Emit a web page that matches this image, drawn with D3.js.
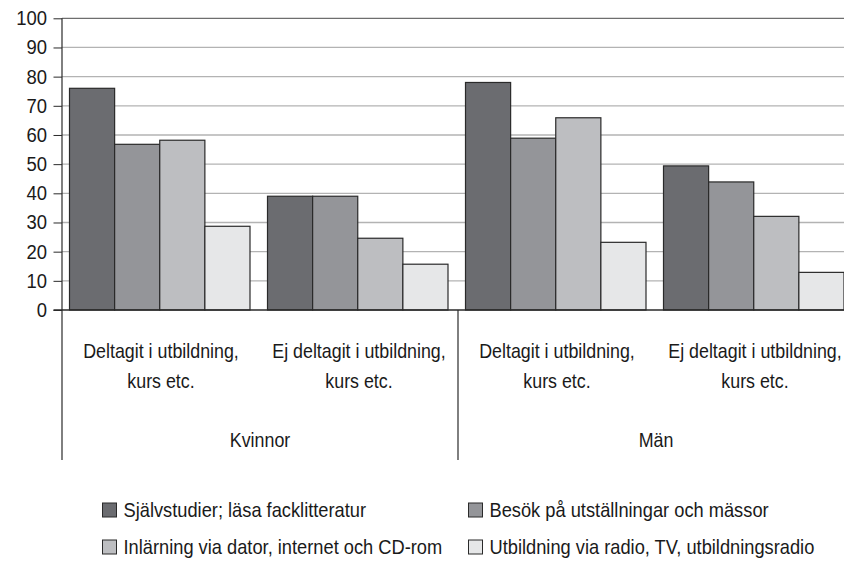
<!DOCTYPE html>
<html>
<head>
<meta charset="utf-8">
<script src="https://cdn.jsdelivr.net/npm/d3@7/dist/d3.min.js"></script>
<style>
  html, body { margin: 0; padding: 0; background: #ffffff; }
  svg { display: block; }
  text { font-family: "Liberation Sans", Arial, sans-serif; fill: #1a1a1a; }
</style>
</head>
<body>
<svg id="chart" width="844" height="562"></svg>
<script>
// ---- data ----
const groups = ["Kvinnor", "Män"];
const subgroups = ["Deltagit i utbildning,|kurs etc.", "Ej deltagit i utbildning,|kurs etc."];
const series = [
  "Självstudier; läsa facklitteratur",
  "Besök på utställningar och mässor",
  "Inlärning via dator, internet och CD-rom",
  "Utbildning via radio, TV, utbildningsradio"
];
// values per series, order: Kvinnor-Deltagit, Kvinnor-Ej, Män-Deltagit, Män-Ej
const selfStudy   = [76, 39, 78, 49.4];
const exhibitions = [56.8, 39, 58.9, 43.9];
const computer    = [58.2, 24.6, 65.9, 32.1];
const radioTv     = [28.7, 15.7, 23.2, 12.9];
const yTicks = [0, 10, 20, 30, 40, 50, 60, 70, 80, 90, 100];

const seriesValues = [selfStudy, exhibitions, computer, radioTv];
const colors = ["#6b6c70", "#949599", "#bdbec1", "#e6e7e8"];

// ---- layout ----
const svg = d3.select("#chart");
const plotLeft = 62, plotRight = 854, plotTop = 18.3, plotBottom = 310;
const cells = [];
groups.forEach((g, gi) => subgroups.forEach((s, si) => cells.push({ g, s, key: g + "|" + si })));

const x0 = d3.scaleBand().domain(cells.map(c => c.key)).range([plotLeft, plotRight]).padding(0);
const bw = x0.bandwidth();
const x1 = d3.scaleBand().domain(series).range([7.5, bw - 10]).padding(0);
const y = d3.scaleLinear().domain([0, 100]).range([plotBottom, plotTop]);
const xg = d3.scaleBand().domain(groups).range([plotLeft, plotRight]).padding(0);

function ctext(sel, x, yy, str, anchor, sx) {
  return sel.append("text")
    .attr("transform", `translate(${x},${yy}) scale(${sx || 0.85},1)`)
    .attr("text-anchor", anchor || "middle")
    .style("font-size", "21px")
    .text(str);
}

// gridlines
svg.append("g").selectAll("line").data(yTicks.filter(t => t > 0 && t < 100)).join("line")
  .attr("x1", plotLeft).attr("x2", plotRight)
  .attr("y1", d => y(d)).attr("y2", d => y(d))
  .attr("stroke", "#b3b3b3").attr("stroke-width", 1.3);
// top border
svg.append("line").attr("x1", plotLeft).attr("x2", plotRight).attr("y1", y(100)).attr("y2", y(100))
  .attr("stroke", "#4a4a4a").attr("stroke-width", 1);

// bars
const barData = [];
cells.forEach((c, ci) => series.forEach((s, si) => barData.push({ key: c.key, s, si, v: seriesValues[si][ci] })));
svg.append("g").selectAll("rect").data(barData).join("rect")
  .attr("x", d => x0(d.key) + x1(d.s))
  .attr("width", x1.bandwidth())
  .attr("y", d => y(d.v))
  .attr("height", d => y(0) - y(d.v))
  .attr("fill", d => colors[d.si])
  .attr("stroke", "#2a2a2a").attr("stroke-width", 1.2);

// y axis
const yAxis = d3.axisLeft(y).tickValues(yTicks).tickSize(8.5).tickSizeOuter(0).tickPadding(0);
const ya = svg.append("g").attr("transform", `translate(${plotLeft},0)`).call(yAxis);
ya.select(".domain").remove();
ya.selectAll(".tick line").attr("stroke", "#2a2a2a").attr("stroke-width", 1);
ya.selectAll(".tick text").remove();
yTicks.forEach(t => ctext(svg, 47, y(t) + 7, String(t), "end", 0.88));

// left axis line and baseline
svg.append("line").attr("x1", plotLeft).attr("x2", plotLeft).attr("y1", plotTop).attr("y2", 460)
  .attr("stroke", "#2a2a2a").attr("stroke-width", 1.2);
svg.append("line").attr("x1", plotLeft - 8.5).attr("x2", plotRight).attr("y1", y(0)).attr("y2", y(0))
  .attr("stroke", "#2a2a2a").attr("stroke-width", 1.5);
// group dividers
groups.forEach(g => {
  const xr = xg(g) + xg.bandwidth();
  svg.append("line").attr("x1", xr).attr("x2", xr).attr("y1", y(0)).attr("y2", 460)
    .attr("stroke", "#2a2a2a").attr("stroke-width", 1.2);
});

// category labels
cells.forEach(c => {
  const cx = x0(c.key) + bw / 2;
  const lines = c.s.split("|");
  ctext(svg, cx, 358, lines[0]);
  ctext(svg, cx, 388, lines[1]);
});
groups.forEach(g => ctext(svg, xg(g) + xg.bandwidth() / 2, 447, g));

// legend
const legPos = [[102.5, 510], [468.5, 510], [102.5, 547], [468.5, 547]];
series.forEach((s, i) => {
  const [lx, ly] = legPos[i];
  svg.append("rect").attr("x", lx).attr("y", ly - 7).attr("width", 14).attr("height", 14)
    .attr("fill", colors[i]).attr("stroke", "#2a2a2a").attr("stroke-width", 1);
  ctext(svg, lx + 21, ly + 7, s, "start", 0.87);
});
</script>
</body>
</html>
